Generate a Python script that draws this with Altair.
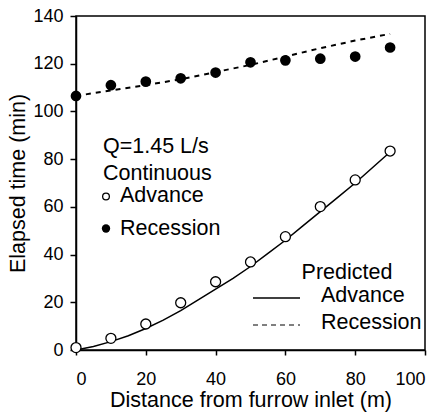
import altair as alt
import pandas as pd

# Observed data
obs_x = [0, 10, 20, 30, 40, 50, 60, 70, 80, 90]
obs_advance = [1.0, 4.9, 10.9, 19.8, 28.6, 36.9, 47.5, 60.1, 71.3, 83.4]
obs_recession = [106.5, 111.0, 112.5, 113.9, 116.3, 120.6, 121.4, 122.1, 123.0, 126.8]

# Predicted curves
pred_adv_x = [0, 5, 10, 15, 20, 25, 30, 35, 40, 45, 50, 55, 60, 65, 70, 75, 80, 85, 90]
pred_adv_y = [0, 1.5, 3.5, 6, 9, 12.5, 16.5, 21, 25.5, 30, 35, 40.5, 46, 52, 58, 64, 70, 76.5, 83]
pred_rec_x = [0, 10, 20, 30, 40, 50, 60, 70, 80, 90]
pred_rec_y = [106.5, 108.8, 111.0, 113.5, 116.5, 119.5, 123.0, 126.5, 129.7, 132.5]

x_ticks = [0, 20, 40, 60, 80, 100]
y_ticks = [0, 20, 40, 60, 80, 100, 120, 140]

FONT = "Liberation Sans"
TICK_FS = 18
FS = 21.5

obs = pd.DataFrame({"x": obs_x, "adv": obs_advance, "rec": obs_recession})
padv = pd.DataFrame({"x": pred_adv_x, "y": pred_adv_y})
prec = pd.DataFrame({"x": pred_rec_x, "y": pred_rec_y})

xs = alt.Scale(domain=[0, 100], nice=False)
ys = alt.Scale(domain=[0, 140], nice=False)
xax = alt.Axis(values=x_ticks, title="Distance from furrow inlet (m)", grid=False)
yax = alt.Axis(values=y_ticks, title="Elapsed time (min)", grid=False)

line_adv = alt.Chart(padv).mark_line(color="black", strokeWidth=1.5).encode(
    x=alt.X("x:Q", scale=xs, axis=xax), y=alt.Y("y:Q", scale=ys, axis=yax))
line_rec = alt.Chart(prec).mark_line(color="black", strokeWidth=2, strokeDash=[5, 5]).encode(
    x=alt.X("x:Q", scale=xs), y=alt.Y("y:Q", scale=ys))
pts_adv = alt.Chart(obs).mark_point(shape="circle", filled=True, fill="white", stroke="black",
                                    strokeWidth=1.3, size=100, opacity=1).encode(
    x=alt.X("x:Q", scale=xs), y=alt.Y("adv:Q", scale=ys))
pts_rec = alt.Chart(obs).mark_point(shape="circle", filled=True, color="black", size=115, opacity=1).encode(
    x=alt.X("x:Q", scale=xs), y=alt.Y("rec:Q", scale=ys))

def txt(s, x, y, align="left"):
    return alt.Chart(pd.DataFrame({"t": [s]})).mark_text(
        font=FONT, fontSize=FS, align=align, baseline="middle", color="black").encode(
        text="t:N", x=alt.value(x), y=alt.value(y))

leg = [
    txt("Q=1.45 L/s", 27, 131),
    txt("Continuous", 27, 158),
    alt.Chart(pd.DataFrame({"a": [0]})).mark_point(shape="circle", filled=True, fill="white",
        stroke="black", strokeWidth=1.3, size=45, opacity=1).encode(x=alt.value(30), y=alt.value(180.5)),
    txt("Advance", 44, 180),
    alt.Chart(pd.DataFrame({"a": [0]})).mark_point(shape="circle", filled=True, color="black",
        size=70, opacity=1).encode(x=alt.value(30), y=alt.value(212.5)),
    txt("Recession", 44, 213),
    txt("Predicted", 271, 257, "center"),
    alt.Chart(pd.DataFrame({"a": [0]})).mark_rule(color="black", strokeWidth=1.5).encode(
        x=alt.value(177), x2=alt.value(224), y=alt.value(282)),
    txt("Advance", 245, 280),
    alt.Chart(pd.DataFrame({"a": [0]})).mark_rule(color="black", strokeWidth=1, strokeDash=[5, 4]).encode(
        x=alt.value(177), x2=alt.value(224), y=alt.value(309)),
    txt("Recession", 245, 306.5),
]

chart = alt.layer(line_adv, line_rec, pts_adv, pts_rec, *leg).properties(
    width=349, height=334,
    autosize=alt.AutoSizeParams(type="none"),
    padding={"left": 76, "top": 16, "right": 16, "bottom": 67},
    background="white",
).configure_view(stroke="black", strokeWidth=1.5).configure_axis(
    domainColor="black", domainWidth=1.5, tickColor="black", tickWidth=1.5,
    labelFont=FONT, labelFontSize=TICK_FS, labelColor="black",
    titleFont=FONT, titleFontSize=FS, titleColor="black", titleFontWeight="normal",
).configure_axisX(tickSize=5, labelPadding=15, titlePadding=1).configure_axisY(
    tickSize=6, labelPadding=7, titlePadding=3)

chart.save("out.html", embed_options={"renderer": "svg", "actions": False})
